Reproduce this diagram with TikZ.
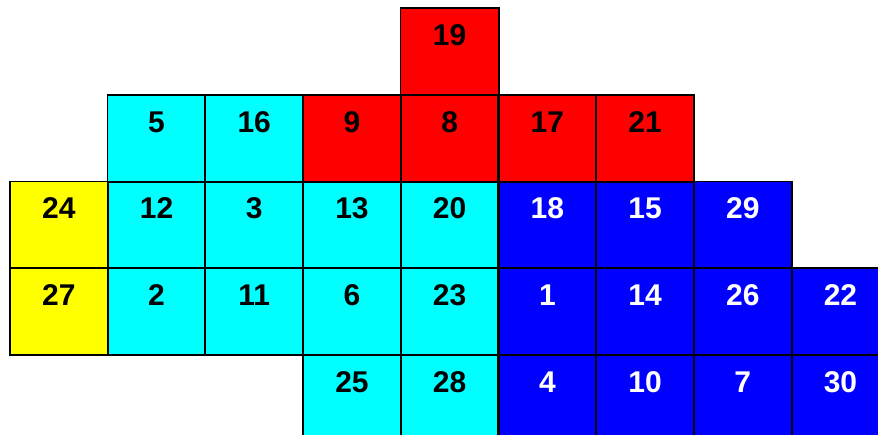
\documentclass[tikz,border=0pt]{standalone}
\usepackage{fontspec}
\setmainfont{Liberation Sans}
\definecolor{ccyan}{RGB}{0,255,255}
\definecolor{cred}{RGB}{255,0,0}
\definecolor{cblue}{RGB}{0,0,255}
\definecolor{cyellow}{RGB}{255,255,0}
\tikzset{
  cell/.style={rectangle, minimum width=97.7pt,
    inner xsep=0pt, inner ysep=0pt, text height=37pt, text depth=49.7pt,
    font=\fontsize{30}{30}\selectfont\bfseries},
  cy/.style={cell, fill=ccyan, text=black},
  rd/.style={cell, fill=cred, text=black},
  bl/.style={cell, fill=cblue, text=white},
  ye/.style={cell, fill=cyellow, text=black},
  border/.style={draw=black, line width=1.7pt},
}
\newcommand{\cellat}[4]{% style, col, row, text
  \node[#1] (c#4) at ({10+97.7*(#2+0.5)}, {-(8.3+86.7*(#3+0.5))}) {#4};}
\begin{document}
\begin{tikzpicture}[x=1pt,y=1pt]
\useasboundingbox (0,0) rectangle (878,-434);
\clip (0,0) rectangle (878,-434);
% row 0
\cellat{rd}{4}{0}{19}
% row 1
\cellat{cy}{1}{1}{5}
\cellat{cy}{2}{1}{16}
\cellat{rd}{3}{1}{9}
\cellat{rd}{4}{1}{8}
\cellat{rd}{5}{1}{17}
\cellat{rd}{6}{1}{21}
% row 2
\cellat{ye}{0}{2}{24}
\cellat{cy}{1}{2}{12}
\cellat{cy}{2}{2}{3}
\cellat{cy}{3}{2}{13}
\cellat{cy}{4}{2}{20}
\cellat{bl}{5}{2}{18}
\cellat{bl}{6}{2}{15}
\cellat{bl}{7}{2}{29}
% row 3
\cellat{ye}{0}{3}{27}
\cellat{cy}{1}{3}{2}
\cellat{cy}{2}{3}{11}
\cellat{cy}{3}{3}{6}
\cellat{cy}{4}{3}{23}
\cellat{bl}{5}{3}{1}
\cellat{bl}{6}{3}{14}
\cellat{bl}{7}{3}{26}
\cellat{bl}{8}{3}{22}
% row 4
\cellat{cy}{3}{4}{25}
\cellat{cy}{4}{4}{28}
\cellat{bl}{5}{4}{4}
\cellat{bl}{6}{4}{10}
\cellat{bl}{7}{4}{7}
\cellat{bl}{8}{4}{30}
% borders drawn over all fills
\foreach \n in {19,5,16,9,8,17,21,24,12,3,13,20,18,15,29,27,2,11,6,23,1,14,26,22,25,28,4,10,7,30}
  \draw[border] (c\n.north west) rectangle (c\n.south east);
\end{tikzpicture}
\end{document}
